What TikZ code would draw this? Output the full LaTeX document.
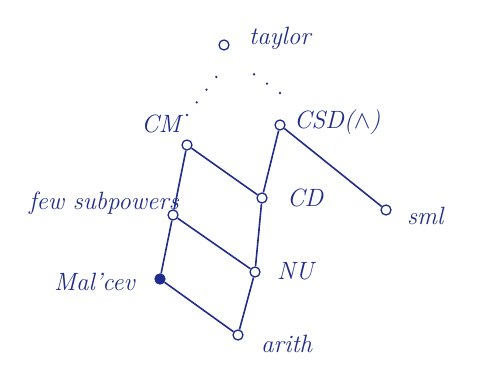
\documentclass[tikz,border=0pt]{standalone}
\usepackage{xcolor}
\usepackage{tikz}
\usetikzlibrary{positioning}
\definecolor{ink}{RGB}{32,44,140}

\begin{document}
\begin{tikzpicture}[
  x=1pt, y=-1pt,
  pt/.style={draw=ink, circle, line width=1.3pt, inner sep=0pt, minimum size=10pt, fill=white},
  lbl/.style={text=ink, font=\fontsize{25}{28}\selectfont\itshape, inner sep=1pt},
  ed/.style={draw=ink, line width=1.6pt},
  dots/.style={draw=ink, line width=2.6pt, line cap=round, dash pattern=on 0pt off 16pt}]
  \useasboundingbox (0,0) rectangle (485,371);
  % lattice points
  \node[pt] (taylor) at (224,45) {};
  \node[pt] (cm) at (187,145) {};
  \node[pt] (csd) at (280,125) {};
  \node[pt] (few) at (173,215) {};
  \node[pt] (cd) at (262,198) {};
  \node[pt] (sml) at (386,210) {};
  \node[pt] (nu) at (255,272) {};
  \node[pt, fill=ink] (malcev) at (160,279) {};
  \node[pt] (arith) at (238,335) {};
  % names
  \node[lbl, anchor=west] (ltaylor) at (248,38) {taylor};
  \node[lbl, anchor=east] (lcm) at (182,124) {CM};
  \node[lbl, anchor=west] (lcsd) at (293,122) {CSD($\wedge$)};
  \node[lbl, anchor=east] (lfew) at (180,203) {few subpowers};
  \node[lbl, anchor=west] (lcd) at (286,198) {CD};
  \node[lbl, anchor=west] (lsml) at (406,216) {sml};
  \node[lbl, anchor=west] (lnu) at (276,271) {NU};
  \node[lbl, anchor=east] (lmalcev) at (136,282) {Mal'cev};
  \node[lbl, anchor=west] (larith) at (260,344) {arith};
  % edges
  \draw[ed] (cm) -- (cd);
  \draw[ed] (cm) -- (few);
  \draw[ed] (csd) -- (cd);
  \draw[ed] (csd) -- (sml);
  \draw[ed] (few) -- (malcev);
  \draw[ed] (few) -- (nu);
  \draw[ed] (cd) -- (nu);
  \draw[ed] (malcev) -- (arith);
  \draw[ed] (nu) -- (arith);
  \draw[dots] ([yshift=30pt]cm.center) -- ([yshift=-22pt]taylor.center);
  \draw[dots] ([yshift=32pt]csd.center) -- ([shift={(20pt,-22pt)}]taylor.center);
\end{tikzpicture}
\end{document}
